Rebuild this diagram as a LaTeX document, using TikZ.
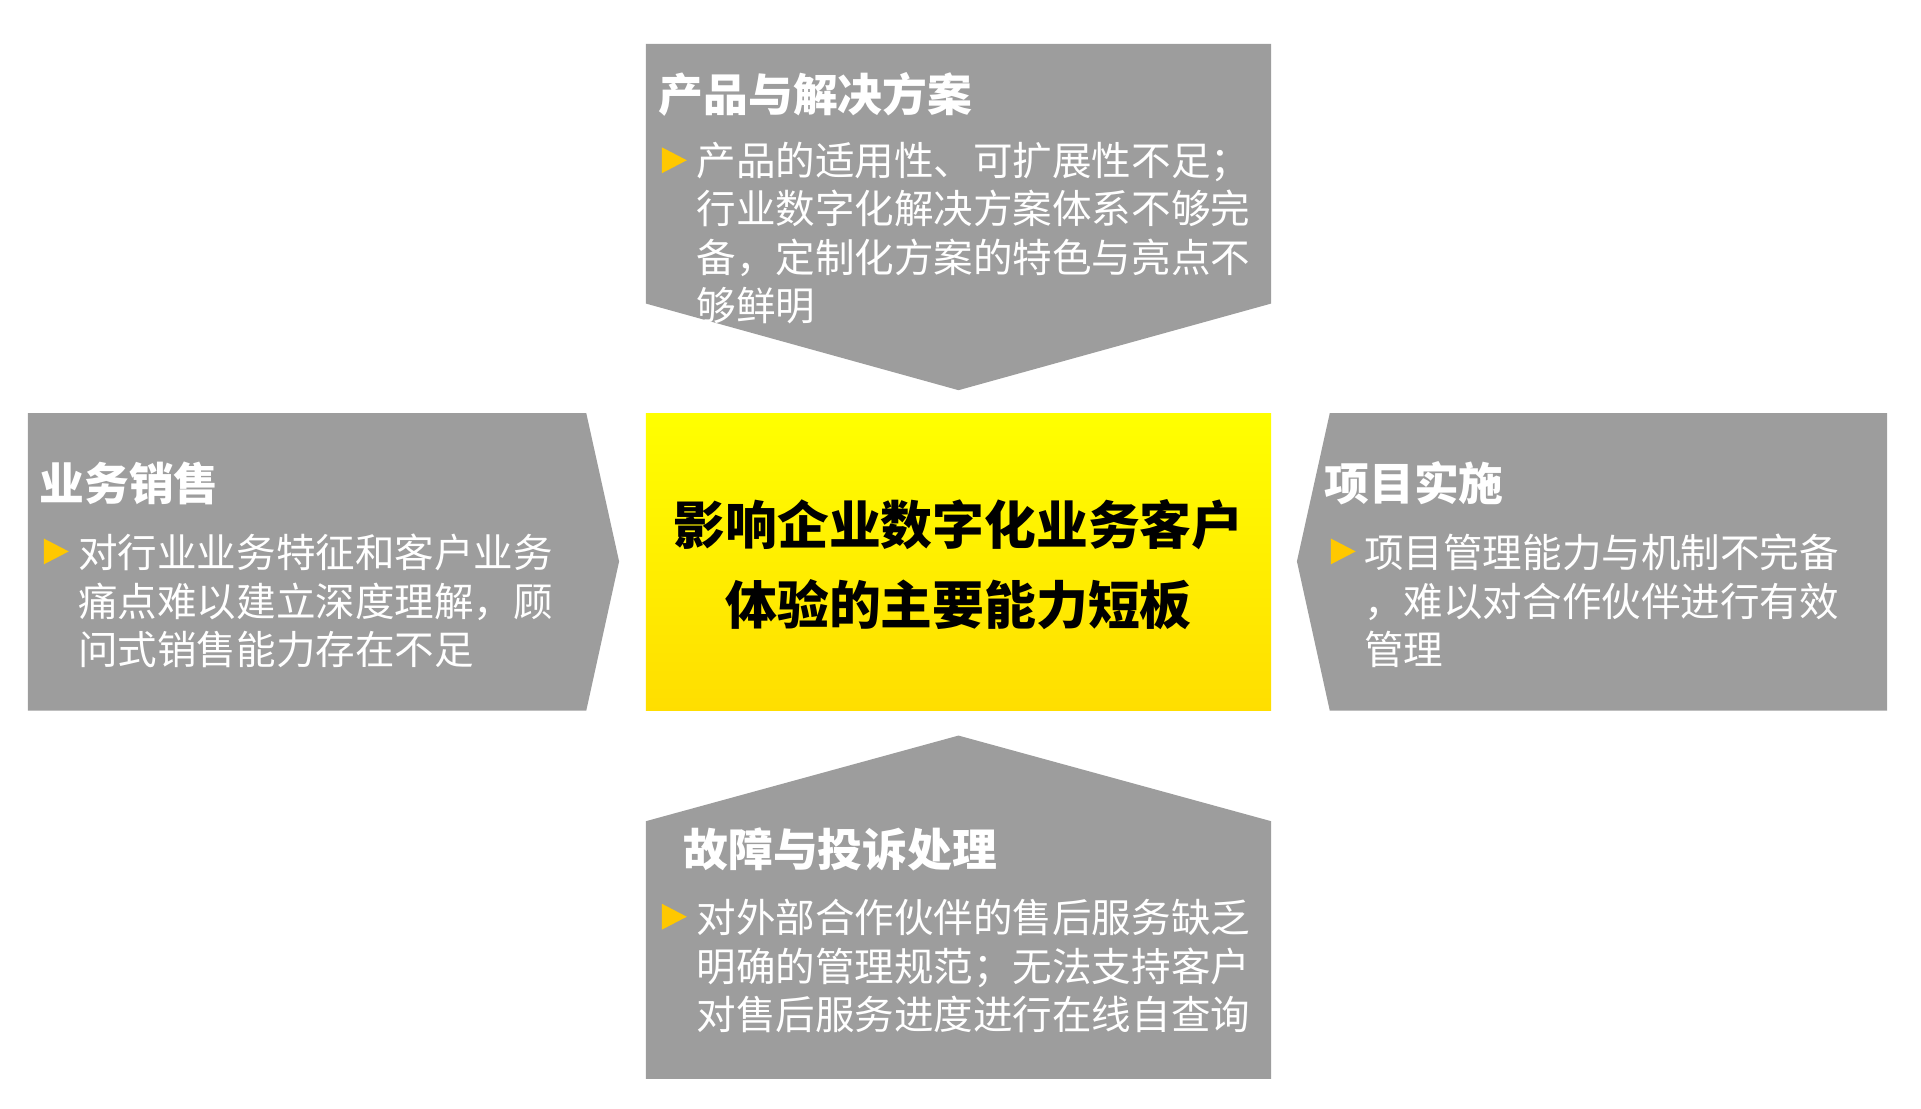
\documentclass[tikz,border=0pt]{standalone}
\usepackage{fontspec}
\setmainfont{Noto Sans CJK SC}
\definecolor{panelgray}{RGB}{157,157,157}
\definecolor{markyellow}{RGB}{255,200,0}
\definecolor{coreyellow}{RGB}{255,255,0}
\definecolor{coregold}{RGB}{255,222,0}
\begin{document}
\begin{tikzpicture}[x=.01cm,y=-.01cm,
    panel/.style={fill=panelgray,draw=none},
    heading/.style={anchor=north west,inner sep=0,text=white,
      font=\fontsize{12.8}{15}\selectfont\bfseries},
    bodytext/.style={anchor=north west,inner sep=0,text=white,align=left,
      font=\fontsize{11.3}{13.8}\selectfont},
    pointer/.style={fill=markyellow,draw=none}]
  \useasboundingbox (0,0) rectangle (1930,1114);
  % grey panels
  \filldraw [panel] (649,44) -- (1277,44) -- (1277,305) -- (963,392) -- (649,305) -- cycle;
  \filldraw [panel] (28,415) -- (589,415) -- (622,564) -- (589,714) -- (28,714) -- cycle;
  \filldraw [panel] (1336,415) -- (1896,415) -- (1896,714) -- (1336,714) -- (1303,564) -- cycle;
  \filldraw [panel] (963,739) -- (1277,825) -- (1277,1084) -- (649,1084) -- (649,825) -- cycle;
  % core box
  \shade [top color=coreyellow,bottom color=coregold] (649,415) rectangle (1277,714);
  \node (core) [align=center,font=\fontsize{14.8}{22.8}\selectfont\bfseries] at (963,567)
    {影响企业数字化业务客户\\体验的主要能力短板};
  % headings
  \node (prodhead) [heading] at (661,72) {产品与解决方案};
  \node (salehead) [heading] at (39,463) {业务销售};
  \node (projhead) [heading] at (1330,463) {项目实施};
  \node (faulthead) [heading] at (686,831) {故障与投诉处理};
  % texts
  \node (prodtext) [bodytext] at (699,142)
    {产品的适用性、可扩展性不足；\\行业数字化解决方案体系不够完\\备，定制化方案的特色与亮点不\\够鲜明};
  \node (saletext) [bodytext] at (78,536)
    {对行业业务特征和客户业务\\痛点难以建立深度理解，顾\\问式销售能力存在不足};
  \node (projtext) [bodytext] at (1370,536)
    {项目管理能力与机制不完备\\，难以对合作伙伴进行有效\\管理};
  \node (faulttext) [bodytext] at (699,903)
    {对外部合作伙伴的售后服务缺乏\\明确的管理规范；无法支持客户\\对售后服务进度进行在线自查询};
  % yellow pointers
  \foreach \bx/\by in {665/161,44/554,1337/554,665/921}
    \fill [pointer] (\bx,\by-13) -- (\bx+25,\by) -- (\bx,\by+13) -- cycle;
\end{tikzpicture}
\end{document}
